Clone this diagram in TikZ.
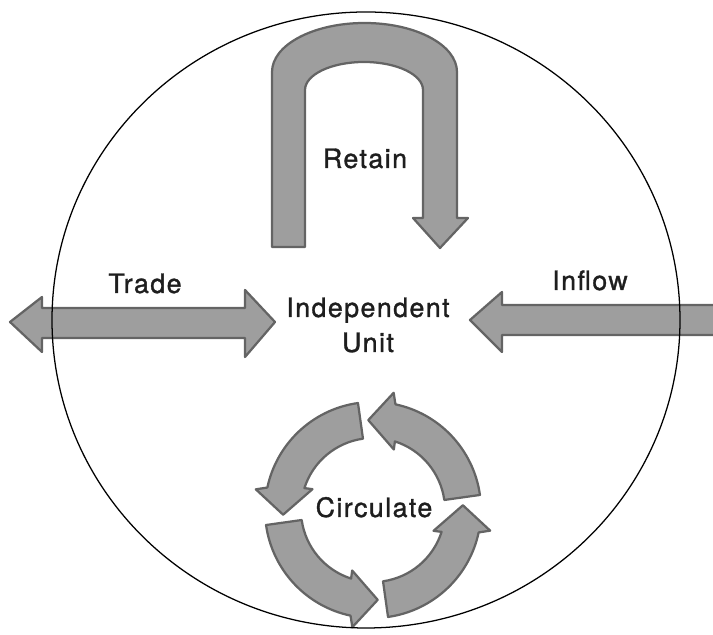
\documentclass[tikz,border=0pt]{standalone}
\usepackage{fontspec}
\setmainfont{TeX Gyre Heros}
\usetikzlibrary{positioning}
\definecolor{UnitInk}{RGB}{30,30,30}
\definecolor{UnitArrowFill}{RGB}{158,158,158}
\definecolor{UnitArrowEdge}{RGB}{100,100,100}
\tikzset{
  unit/label/.style={
    font=\fontsize{19}{23}\selectfont\addfontfeature{LetterSpace=5.5,FakeBold=1.2},
    text=UnitInk,
    inner sep=0pt,
    anchor=base
  },
  unit/block/.style={
    fill=UnitArrowFill,
    draw=UnitArrowEdge,
    line width=1.6pt,
    line join=round
  },
  unit/ring/.style={draw=black, line width=0.9pt}
}

\begin{document}
\begin{tikzpicture}[x=0.025cm,y=0.025cm]
  \useasboundingbox (0,0) rectangle (713,635);
  \draw[unit/block] (305,388) -- (272,388) -- (272,563)
    arc[start angle=180, end angle=0, x radius=92.5, y radius=49]
    -- (457,417) -- (468,417) -- (440,387) -- (413,417) -- (423,417) -- (423,545)
    arc[start angle=0, end angle=180, x radius=59, y radius=28] -- cycle;
  \draw[unit/block] (10,313) -- (42,338) -- (42,327) -- (245,327) -- (245,345)
    -- (275,313) -- (245,278) -- (245,297) -- (42,297) -- (42,283) -- cycle;
  \draw[unit/block] (470,315) -- (502,343) -- (502,330) -- (720,330)
    -- (720,300) -- (502,300) -- (502,283) -- cycle;
  \begin{scope}[shift={(373,125)}]
    \foreach \k [evaluate=\k as \a using 90*\k+8] in {0,...,3}
      \draw[unit/block] (\a:108) arc[start angle=\a, end angle=\a+70, radius=108]
        -- ({\a+72}:119) -- ({\a+85}:90) -- ({\a+63}:64) -- ({\a+64.3}:72)
        arc[start angle=\a+64.3, end angle=\a, radius=72] -- cycle;
  \end{scope}
  \draw[unit/ring] (366,315) ellipse[x radius=314, y radius=308];
  \node[unit/label] (retain) at (365,467) {Retain};
  \node[unit/label] (trade) at (145,342) {Trade};
  \node[unit/label] (inflow) at (590,345) {Inflow};
  \node[unit/label] (indep) at (368,318) {Independent};
  \node[unit/label] (unitlbl) at (368,283) {Unit};
  \node[unit/label] (circ) at (374,118) {Circulate};
\end{tikzpicture}
\end{document}
